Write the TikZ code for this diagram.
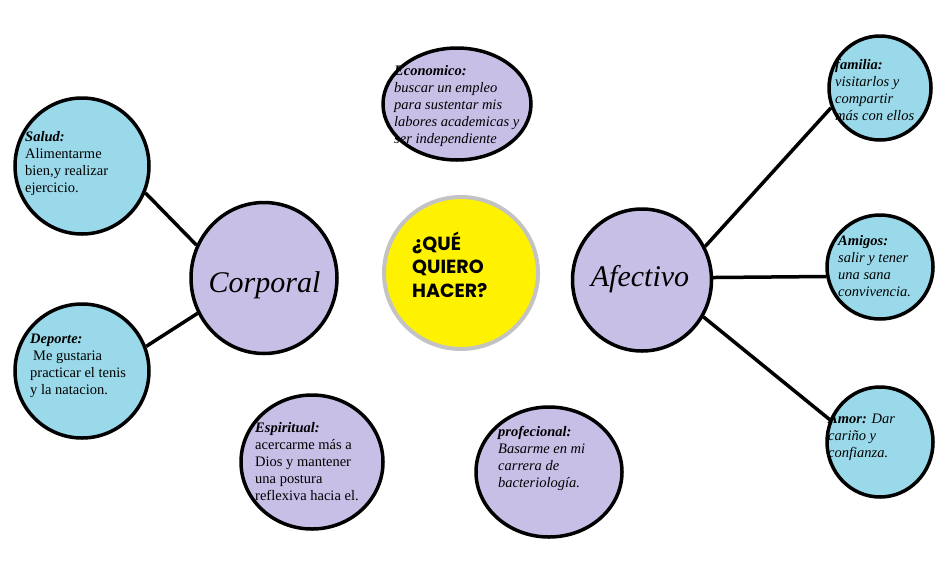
\documentclass[tikz,border=0pt]{standalone}
\usepackage{fontspec}
\setmainfont{Liberation Serif}
\newfontfamily\qfont{Poppins}
\usetikzlibrary{shapes.geometric}
\definecolor{lblue}{HTML}{99D9EA}
\definecolor{lav}{HTML}{C8BFE7}
\definecolor{qyel}{HTML}{FFF200}
\definecolor{qgray}{HTML}{C3C3C3}
\begin{document}
\begin{tikzpicture}[x=1pt,y=-1pt,
  bub/.style={ellipse, draw=black, line width=3.5pt, inner sep=0pt},
  bluebub/.style={bub, fill=lblue},
  lavbub/.style={bub, fill=lav},
  conn/.style={draw=black, line width=3.5pt},
  txt/.style={anchor=base west, align=left, inner sep=0pt, font=\fontsize{14.5}{17}\selectfont},
  itxt/.style={txt, font=\fontsize{14.5}{17}\selectfont\itshape},
  big/.style={anchor=base, inner sep=0pt, font=\fontsize{30}{34}\selectfont\itshape}]
\useasboundingbox[fill=white] (0,0) rectangle (949,576);
% bubbles
\node[bluebub, minimum width=134, minimum height=136] (salud) at (82,166) {};
\node[bluebub, minimum width=134, minimum height=134] (dep) at (82,371) {};
\node[lavbub, minimum width=146, minimum height=151] (corp) at (264,278) {};
\node[ellipse, draw=qgray, line width=4pt, fill=qyel, inner sep=0pt, minimum width=154, minimum height=152] (que) at (461,273) {};
\node[lavbub, minimum width=139, minimum height=142] (afe) at (642,280) {};
\node[lavbub, minimum width=148, minimum height=112] (eco) at (457,104) {};
\node[lavbub, minimum width=142, minimum height=134] (esp) at (312,462) {};
\node[lavbub, minimum width=146, minimum height=130] (pro) at (549,472) {};
\node[bluebub, minimum width=102, minimum height=104] (fam) at (880,88) {};
\node[bluebub, minimum width=106, minimum height=104] (ami) at (880,267) {};
\node[bluebub, minimum width=106, minimum height=110] (amor) at (880,442) {};
% connectors
\draw[conn] (salud.-23) -- (corp.154);
\draw[conn] (dep.21) -- (corp.208);
\draw[conn] (afe.28) -- (fam.202);
\draw[conn] (afe.2) -- (ami.190);
\draw[conn] (afe.-31) -- (amor.156);
% texts (anchored at the baseline of the last line)
\node[txt] (tsalud) at (25,192) {\textbf{\textit{Salud:}}\\Alimentarme\\bien,y realizar\\ejercicio.};
\node[txt] (tdep) at (30,394) {\textbf{\textit{Deporte:}}\\\hspace*{3pt}Me gustaria\\practicar el tenis\\y la natacion.};
\node[itxt] (teco) at (394,143) {\textbf{Economico:}\\buscar un empleo\\para sustentar mis\\labores academicas y\\ser independiente};
\node[txt] (tesp) at (255,500) {\textbf{\textit{Espiritual:}}\\acercarme más a\\Dios y mantener\\una postura\\reflexiva hacia el.};
\node[itxt] (tpro) at (498,487) {\textbf{profecional:}\\Basarme en mi\\carrera de\\bacteriología.};
\node[itxt] (tfam) at (835,120) {\textbf{familia:}\\visitarlos y\\compartir\\más con ellos};
\node[itxt] (tami) at (838,296) {\textbf{Amigos:}\\salir y tener\\una sana\\convivencia.};
\node[itxt] (tamor) at (828,457) {\textbf{Amor:} Dar\\cariño y\\confianza.};
\node[big] (tcorp) at (264.5,292) {Corporal};
\node[big] (tafe) at (640,286) {Afectivo};
\node[anchor=base west, align=left, inner sep=0pt, font=\qfont\bfseries\fontsize{19}{23.5}\selectfont] (tque) at (412,297) {¿QUÉ\\QUIERO\\HACER?};
\end{tikzpicture}
\end{document}
